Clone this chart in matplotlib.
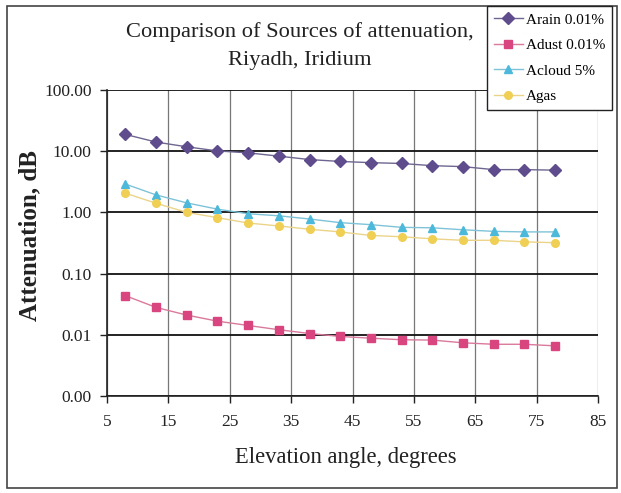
import matplotlib
matplotlib.use("Agg")
import matplotlib.pyplot as plt
from matplotlib.patches import Rectangle
from matplotlib.ticker import FixedLocator, FuncFormatter, NullLocator

elevation = [8, 13, 18, 23, 28, 33, 38, 43, 48, 53, 58, 63, 68, 73, 78]
arain = [18.8, 14.1, 11.8, 10.1, 9.4, 8.3, 7.3, 6.8, 6.5, 6.3, 5.8, 5.6, 5.0, 5.0, 4.9]
adust = [0.0436, 0.028, 0.021, 0.0167, 0.0142, 0.0121, 0.0105, 0.0094, 0.0088,
         0.0083, 0.0082, 0.0074, 0.0070, 0.0070, 0.0066]
acloud = [2.9, 1.93, 1.43, 1.13, 0.95, 0.88, 0.78, 0.68, 0.63, 0.57, 0.56, 0.52, 0.49, 0.48, 0.48]
agas = [2.06, 1.41, 1.0, 0.82, 0.67, 0.60, 0.53, 0.48, 0.42, 0.40, 0.37, 0.35, 0.35, 0.33, 0.32]
series_names = ["Arain 0.01%", "Adust 0.01%", "Acloud 5%", "Agas"]
x_ticks = [5, 15, 25, 35, 45, 55, 65, 75, 85]
y_ticks = [0.001, 0.01, 0.1, 1, 10, 100]

plt.rcParams['font.family'] = ['Liberation Serif', 'DejaVu Serif']

W, H = 621, 493
fig = plt.figure(figsize=(W / 100, H / 100), dpi=100)
fig.patch.set_facecolor('white')

left, right, top, bottom = 107, 598, 90, 396
ax = fig.add_axes([left / W, 1 - bottom / H, (right - left) / W, (bottom - top) / H])

styles = [
    dict(color='#5E4C8C', marker='D', ms=6.5, lc='#6E6690'),
    dict(color='#D9457F', marker='s', ms=5.5, lc='#D97A9C'),
    dict(color='#4CB8DA', marker='^', ms=6, lc='#7FC3D8'),
    dict(color='#F0CF55', marker='o', ms=5.5, lc='#EBD48A'),
]
handles = []
for vals, name, st in zip([arain, adust, acloud, agas], series_names, styles):
    h, = ax.plot(elevation, vals, color=st['lc'], lw=1.0, marker=st['marker'],
                 ms=st['ms'], mfc=st['color'], mec=st['color'], label=name, zorder=3)
    handles.append(h)

ax.set_yscale('log')
ax.set_xlim(5, 85)
ax.set_ylim(0.001, 100)
ax.xaxis.set_major_locator(FixedLocator(x_ticks))
ax.yaxis.set_major_locator(FixedLocator(y_ticks))
ax.yaxis.set_minor_locator(NullLocator())
ax.yaxis.set_major_formatter(FuncFormatter(lambda v, p: f"{v:.2f}"))
ax.xaxis.set_major_formatter(FuncFormatter(lambda v, p: f"{v:g}"))

ax.grid(axis='y', color='#111111', lw=1.3, zorder=1)
ax.grid(axis='x', color='#777777', lw=0.9, zorder=1)
for s in ['top', 'right']:
    ax.spines[s].set_visible(False)
for s in ['left', 'bottom']:
    ax.spines[s].set_color('#222222')
    ax.spines[s].set_linewidth(1.2)
ax.tick_params(axis='both', direction='out', length=5, width=1, colors='#222222',
               labelsize=12.5, labelcolor='#222222', pad=6)
ax.tick_params(axis='x', pad=8)

fig.text(300 / W, 1 - 32 / H, "Comparison of Sources of attenuation,", ha='center', va='center',
         fontsize=16.2, color='#222222')
fig.text(300 / W, 1 - 60 / H, "Riyadh, Iridium", ha='center', va='center',
         fontsize=16.2, color='#222222')

fig.text(30 / W, 1 - 236 / H, "Attenuation, dB", rotation=90, ha='center', va='center',
         fontsize=18, fontweight='bold', color='#222222')
fig.text(346 / W, 1 - 458 / H, "Elevation angle, degrees", ha='center', va='center',
         fontsize=16.3, color='#222222')

# outer frame
fig.patches.append(Rectangle((7 / W, 1 - 488 / H), (617 - 7) / W, (488 - 6) / H,
                             transform=fig.transFigure, fill=False, edgecolor='#444444',
                             lw=1.2, zorder=0))

leg = fig.legend(handles=handles, loc='upper left', bbox_to_anchor=(487 / W, 1 - 6 / H),
                 bbox_transform=fig.transFigure, fontsize=11, frameon=True, fancybox=False,
                 edgecolor='#222222', framealpha=1, borderpad=0.45, labelspacing=0.78,
                 handlelength=1.9, handletextpad=0.2, borderaxespad=0)
leg.get_frame().set_linewidth(1.0)

fig.savefig("out.png", dpi=100)
